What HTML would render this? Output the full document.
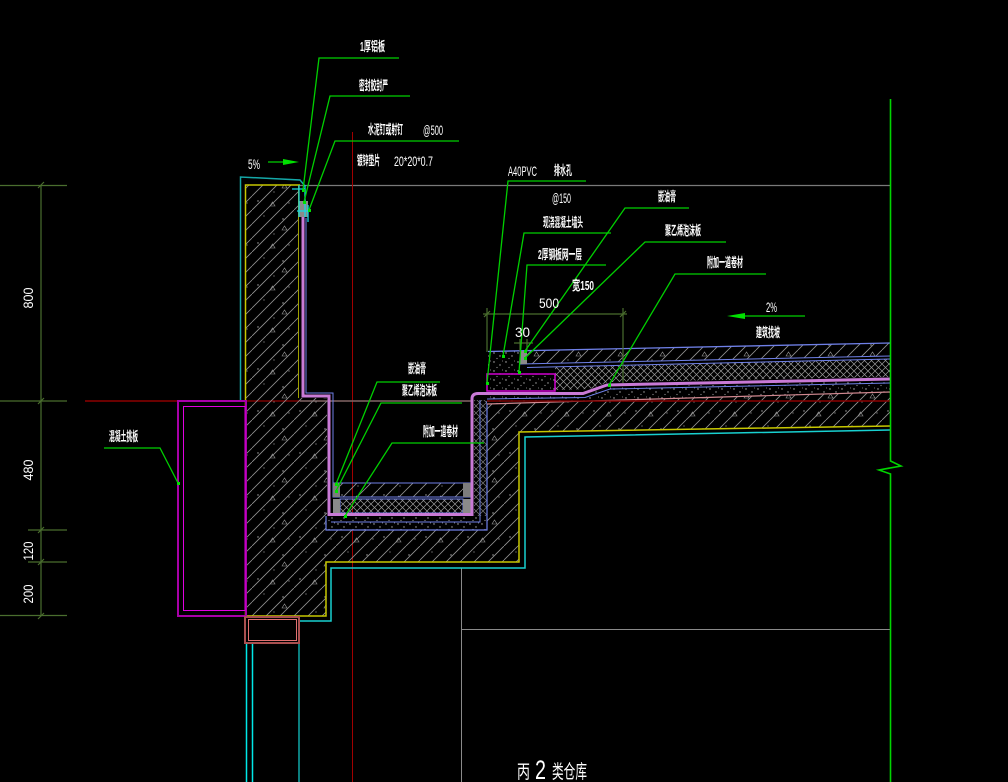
<!DOCTYPE html>
<html><head><meta charset="utf-8"><style>
html,body{margin:0;padding:0;background:#000;}
svg{display:block;}
text{fill:#fff;font-family:"Liberation Sans","Noto Sans CJK SC",sans-serif;}
.c{font-family:"Liberation Sans","Noto Sans CJK SC",sans-serif;font-size:13px;font-weight:bold;}
.n{font-family:"Liberation Sans Narrow","Liberation Sans",sans-serif;font-size:14px;}
</style></head><body>
<svg width="1008" height="782" viewBox="0 0 1008 782" xmlns="http://www.w3.org/2000/svg">
<defs>
<pattern id="h" width="42" height="42" patternUnits="userSpaceOnUse">
<path d="M0,14L14,0M0,28L28,0M0,42L42,0M14,42L42,14M28,42L42,28" stroke="#929292" stroke-width="0.85" fill="none"/>
<circle cx="6" cy="33" r="0.7" fill="#aaa"/><circle cx="31" cy="9" r="0.7" fill="#aaa"/>
<circle cx="22" cy="24" r="0.6" fill="#999"/><circle cx="37" cy="35" r="0.6" fill="#999"/>
<circle cx="12" cy="6" r="0.6" fill="#999"/>
<path d="M18,38l2.5,-4l2.5,4z" fill="none" stroke="#999" stroke-width="0.6"/>
<path d="M30,20l2.5,-4l2.5,4z" fill="none" stroke="#999" stroke-width="0.6"/>
</pattern>
<pattern id="x" width="7" height="7" patternUnits="userSpaceOnUse">
<path d="M0,0L7,7M7,0L0,7" stroke="#9a9a9a" stroke-width="0.7"/>
</pattern>
<pattern id="s" width="12" height="9" patternUnits="userSpaceOnUse">
<circle cx="2" cy="2" r="0.7" fill="#bbb"/><circle cx="8" cy="5" r="0.7" fill="#aaa"/>
<circle cx="5" cy="7.5" r="0.6" fill="#999"/><circle cx="10.5" cy="1" r="0.5" fill="#999"/>
</pattern>
</defs>
<rect width="1008" height="782" fill="#000"/>

<!-- grey reference lines -->
<line x1="300" y1="185.5" x2="890" y2="185.5" stroke="#7a7a7a" stroke-width="1.2"/>
<line x1="461.5" y1="568" x2="461.5" y2="782" stroke="#8a8a8a" stroke-width="1"/>
<line x1="461" y1="629.5" x2="890" y2="629.5" stroke="#8a8a8a" stroke-width="1"/>

<!-- red lines -->
<line x1="85" y1="401" x2="890" y2="401" stroke="#7a0000" stroke-width="1.5"/>
<line x1="352.5" y1="132" x2="352.5" y2="782" stroke="#a00000" stroke-width="1"/>

<!-- main concrete -->
<path d="M245,185L299,185L299,398L327,398L327,530L487,530L487,404L890,392L890,426L519,432L519,562L326,562L326,616L245,616Z" fill="url(#h)"/>
<line x1="85" y1="401" x2="245" y2="401" stroke="#7a0000" stroke-width="1.5"/>

<!-- gutter outer speckle band -->
<path d="M326,516L487,516L487,530L326,530Z" fill="#000"/>
<path d="M326,516L487,516L487,530L326,530Z" fill="url(#s)"/>
<path d="M472,398L487,398L487,516L472,516Z" fill="#000"/>
<path d="M474,400L487,400L487,516L474,516Z" fill="url(#x)" opacity="0.8"/>
<path d="M326,516L326,530L487,530L487,401" fill="none" stroke="#6f80e8" stroke-width="1.2"/>
<path d="M331,522L480,522L480,400" fill="none" stroke="#6f80e8" stroke-width="1"/>
<line x1="300" y1="401" x2="472" y2="401" stroke="#7a7a7a" stroke-width="1.2"/>

<!-- gutter interior layers -->
<rect x="333" y="483" width="138" height="14" fill="url(#h)" stroke="#6f80e8" stroke-width="1"/>
<rect x="340" y="499" width="123" height="14" fill="url(#x)" stroke="#6f80e8" stroke-width="1"/>
<rect x="333" y="483" width="7" height="14" fill="#7d7d7d"/>
<rect x="463" y="483" width="8" height="14" fill="#7d7d7d"/>
<rect x="333" y="499" width="7" height="14" fill="#8a8a8a"/>
<rect x="463" y="499" width="8" height="14" fill="#8a8a8a"/>
<path d="M306,218L306,393L333,393L333,483" fill="none" stroke="#6f80e8" stroke-width="1"/>

<!-- roof layers -->
<path d="M487,396L585,395L610,387L890,381L890,392L487,404Z" fill="#000"/>
<path d="M487,396L585,395L610,387L890,381L890,392L487,404Z" fill="url(#s)"/>
<path d="M527,351L890,343L890,356L527,364Z" fill="url(#h)"/>
<path d="M555,367L890,359L890,377L608,382L590,389L555,390Z" fill="url(#x)"/>
<line x1="488" y1="351.5" x2="890" y2="343" stroke="#6f80e8" stroke-width="1.3"/>
<line x1="520" y1="364" x2="890" y2="356" stroke="#6f80e8" stroke-width="1"/>
<line x1="527" y1="367.5" x2="890" y2="359" stroke="#6f80e8" stroke-width="1"/>
<path d="M487,399L585,397.5L610,389L890,383" fill="none" stroke="#6f80e8" stroke-width="1"/>
<line x1="487" y1="404" x2="890" y2="392" stroke="#d08890" stroke-width="1.2"/>
<line x1="487" y1="401" x2="890" y2="401" stroke="#7a0000" stroke-width="1.5"/>

<!-- drain block -->
<rect x="488" y="351" width="32" height="23" fill="url(#s)"/>
<rect x="520" y="351" width="7" height="13" fill="#8a8a8a"/>
<rect x="487" y="374" width="68" height="17" fill="url(#s)" stroke="#d000d0" stroke-width="1.5"/>

<!-- membrane -->
<path d="M303,215L303,396L329,396L329,514.5L472,514.5L472,399Q472,393.5 478,393.5L583,393.5L607,385L890,379" fill="none" stroke="#c97ad6" stroke-width="3"/>

<!-- yellow outline -->
<path d="M300,185L245.5,185L245.5,616L326,616L326,562L519,562L519,432L890,426" fill="none" stroke="#c8c800" stroke-width="1.5"/>
<line x1="298.5" y1="185" x2="298.5" y2="398" stroke="#a0a000" stroke-width="1"/>

<!-- cyan outline -->
<path d="M240.5,401L240.5,177L300,180L305,186" fill="none" stroke="#14a8a8" stroke-width="1.5"/>
<path d="M298,621L331,621L331,568L525,568L525,437L890,430" fill="none" stroke="#18d0d0" stroke-width="1.5"/>
<line x1="246.5" y1="643" x2="246.5" y2="782" stroke="#00e8e8" stroke-width="1.5"/>
<line x1="252.5" y1="643" x2="252.5" y2="782" stroke="#00e8e8" stroke-width="1.5"/>
<line x1="299" y1="643" x2="299" y2="782" stroke="#10a8a8" stroke-width="1.5"/>

<!-- cap flashing -->
<rect x="299" y="201" width="9" height="16" fill="#8a8a8a"/>
<path d="M299,185L299,217M305,185L305,217M292,189L305,189M297,211L311,211M308,205L308,222" stroke="#18d8e0" stroke-width="1.3" fill="none"/>

<!-- magenta box -->
<rect x="178" y="401" width="68" height="215" fill="none" stroke="#a800a8" stroke-width="2"/>
<rect x="183.5" y="406.5" width="61.5" height="204" fill="none" stroke="#e000e0" stroke-width="1"/>
<!-- salmon box -->
<rect x="245" y="617" width="54" height="26" fill="none" stroke="#a85050" stroke-width="2"/>
<rect x="248.5" y="619.5" width="48" height="21" fill="none" stroke="#e07070" stroke-width="1"/>

<!-- right boundary -->
<path d="M890.5,99L890.5,461L901,466L879,470L890.5,474L890.5,782" fill="none" stroke="#00d400" stroke-width="1.6"/>

<!-- left dimensions -->
<g stroke="#4a6e2e" stroke-width="1.2" fill="none">
<line x1="41" y1="185" x2="41" y2="616"/>
<line x1="0" y1="185.5" x2="67" y2="185.5"/>
<line x1="0" y1="401" x2="67" y2="401"/>
<line x1="28" y1="530" x2="67" y2="530"/>
<line x1="28" y1="562" x2="67" y2="562"/>
<line x1="0" y1="615.5" x2="67" y2="615.5"/>
<path d="M38,188l6,-6M38,404l6,-6M38,533l6,-6M38,565l6,-6M38,619l6,-6"/>
<!-- 500 dim -->
<line x1="487" y1="308" x2="487" y2="352"/>
<line x1="623" y1="308" x2="623" y2="383"/>
<line x1="483" y1="314" x2="627" y2="314"/>
<path d="M484,317l6,-6M620,317l6,-6"/>
<line x1="514" y1="343" x2="533" y2="343"/>
<line x1="520" y1="339" x2="520" y2="351"/>
<line x1="527" y1="339" x2="527" y2="351"/>
</g>
<g class="n">
<text transform="translate(33,298) rotate(-90)" text-anchor="middle" textLength="21" lengthAdjust="spacingAndGlyphs">800</text>
<text transform="translate(33,470) rotate(-90)" text-anchor="middle" textLength="21" lengthAdjust="spacingAndGlyphs">480</text>
<text transform="translate(33,551) rotate(-90)" text-anchor="middle" textLength="19" lengthAdjust="spacingAndGlyphs">120</text>
<text transform="translate(33,594) rotate(-90)" text-anchor="middle" textLength="19" lengthAdjust="spacingAndGlyphs">200</text>
</g>

<!-- leaders -->
<g stroke="#00d000" stroke-width="1.3" fill="none">
<path d="M399,58L319,58L303,190"/>
<path d="M410,96L330,96L304,202"/>
<path d="M459,141L335,141L309,210"/>
<path d="M586,181L508,181L487,383"/>
<path d="M611,233L524,233L503,356"/>
<path d="M606,265L527,265L519,372"/>
<path d="M689,208L625,208L525,351"/>
<path d="M726,242L645,242L525,358"/>
<path d="M766,274L675,274L609,385"/>
<path d="M440,382L377,382L336,484"/>
<path d="M462,403L381,403L336,491"/>
<path d="M484,443L392,443L345,516"/>
<path d="M104,448L160,448L178,483"/>
<line x1="268" y1="162" x2="285" y2="162"/>
<line x1="745" y1="316" x2="805" y2="316"/>
</g>
<g fill="#00e000">
<path d="M283,159L299,162L283,165Z"/>
<path d="M727,316L745,313L745,319Z"/>
<rect x="302" y="189" width="3" height="3"/><rect x="303" y="201" width="3" height="3"/><rect x="308" y="209" width="3" height="3"/>
<rect x="486" y="382" width="3" height="3"/><rect x="502" y="355" width="3" height="3"/><rect x="518" y="371" width="3" height="3"/>
<rect x="524" y="350" width="3" height="3"/><rect x="524" y="357" width="3" height="3"/><rect x="608" y="384" width="3" height="3"/>
<rect x="335" y="483" width="3" height="3"/><rect x="335" y="490" width="3" height="3"/><rect x="344" y="515" width="3" height="3"/>
<rect x="177" y="482" width="3" height="3"/>
</g>

<!-- labels -->
<g class="c">
<text x="360" y="51" textLength="25" lengthAdjust="spacingAndGlyphs">1厚铝板</text>
<text x="359" y="90" textLength="29" lengthAdjust="spacingAndGlyphs">密封胶封严</text>
<text x="368" y="134" textLength="35" lengthAdjust="spacingAndGlyphs">水泥钉或射钉</text>
<text x="357" y="165" textLength="23" lengthAdjust="spacingAndGlyphs">镀锌垫片</text>
<text x="554" y="175" textLength="18" lengthAdjust="spacingAndGlyphs">排水孔</text>
<text x="543" y="227" textLength="40" lengthAdjust="spacingAndGlyphs">现浇混凝土墙头</text>
<text x="538" y="259" textLength="44" lengthAdjust="spacingAndGlyphs">2厚钢板网一层</text>
<text x="572" y="290" textLength="22" lengthAdjust="spacingAndGlyphs">宽150</text>
<text x="658" y="201" textLength="18" lengthAdjust="spacingAndGlyphs">嵌油膏</text>
<text x="665" y="235" textLength="36" lengthAdjust="spacingAndGlyphs">聚乙烯泡沫板</text>
<text x="707" y="267" textLength="36" lengthAdjust="spacingAndGlyphs">附加一道卷材</text>
<text x="756" y="337" textLength="24" lengthAdjust="spacingAndGlyphs">建筑找坡</text>
<text x="408" y="373" textLength="18" lengthAdjust="spacingAndGlyphs">嵌油膏</text>
<text x="402" y="395" textLength="35" lengthAdjust="spacingAndGlyphs">聚乙烯泡沫板</text>
<text x="423" y="436" textLength="35" lengthAdjust="spacingAndGlyphs">附加一道卷材</text>
<text x="109" y="441" textLength="29" lengthAdjust="spacingAndGlyphs">混凝土挑板</text>
</g>
<g class="n">
<text x="423" y="135" textLength="20" lengthAdjust="spacingAndGlyphs">@500</text>
<text x="394" y="166" textLength="39" lengthAdjust="spacingAndGlyphs">20*20*0.7</text>
<text x="248" y="169" textLength="12" lengthAdjust="spacingAndGlyphs">5%</text>
<text x="508" y="176" textLength="29" lengthAdjust="spacingAndGlyphs">A40PVC</text>
<text x="552" y="203" textLength="19" lengthAdjust="spacingAndGlyphs">@150</text>
<text x="539" y="308" textLength="20" lengthAdjust="spacingAndGlyphs">500</text>
<text x="515" y="337" textLength="15" lengthAdjust="spacingAndGlyphs">30</text>
<text x="766" y="312" textLength="11" lengthAdjust="spacingAndGlyphs">2%</text>
</g>

<!-- title -->
<text x="517" y="778" style="font-size:19px;font-family:'Liberation Sans','Noto Sans CJK SC',sans-serif" textLength="13" lengthAdjust="spacingAndGlyphs">丙</text>
<text x="535" y="779" style="font-size:27px;font-family:'Liberation Sans',sans-serif;font-weight:normal" textLength="11" lengthAdjust="spacingAndGlyphs">2</text>
<text x="552" y="778" style="font-size:19px;font-family:'Liberation Sans','Noto Sans CJK SC',sans-serif" textLength="35" lengthAdjust="spacingAndGlyphs">类仓库</text>
</svg>
</body></html>
